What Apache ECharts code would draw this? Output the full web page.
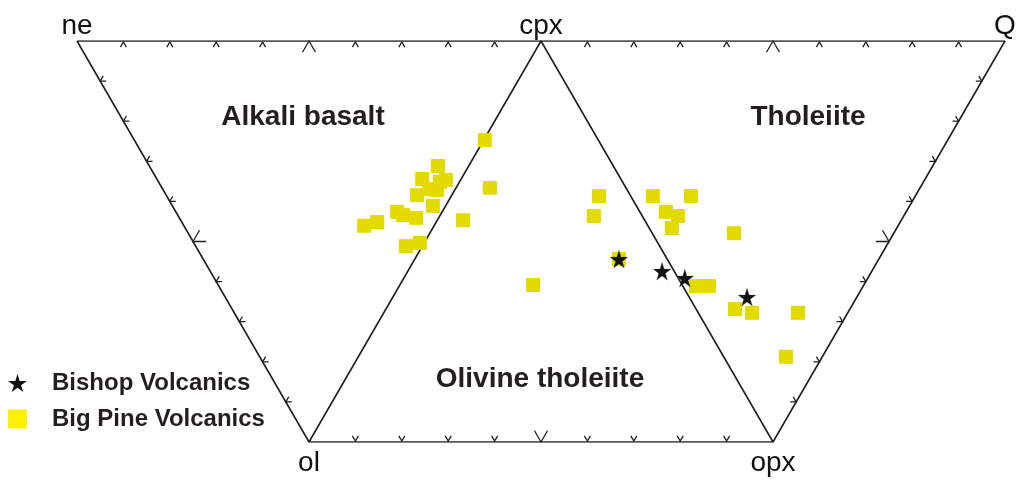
<!DOCTYPE html>
<html><head><meta charset="utf-8">
<script src="https://cdn.jsdelivr.net/npm/echarts@6/dist/echarts.min.js"></script>
<style>html,body{margin:0;padding:0;background:#fff}#c{width:1021px;height:480px}</style>
</head><body><div id="c"></div>
<script>
const H = Math.sqrt(3) / 2;
// projection vertices (x along ne–Q, y up from ol–opx)
const vertexNames = ['ne', 'cpx', 'Q', 'ol', 'opx'];
const vertexX = [0, 1, 2, 0.5, 1.5];
const vertexY = [H, H, H, 0, 0];
const outlineOrder = ['ne', 'Q', 'opx', 'ol', 'ne'];
const innerOrder = ['ol', 'cpx', 'opx'];
const tickFractions = [0.1, 0.2, 0.3, 0.4, 0.5, 0.6, 0.7, 0.8, 0.9];
const fieldNames = ['Alkali basalt', 'Tholeiite', 'Olivine tholeiite'];
const seriesNames = ['Bishop Volcanics', 'Big Pine Volcanics'];

const bigPineX = [0.879, 0.778, 0.744, 0.795, 0.782, 0.759, 0.776, 0.733, 0.890, 0.767, 0.690, 0.703, 0.731, 0.647, 0.619, 0.832, 0.709, 0.739, 0.983,
  1.125, 1.241, 1.323, 1.114, 1.269, 1.295, 1.282, 1.416, 1.168, 1.334, 1.362, 1.418, 1.455, 1.554, 1.528];
const bigPineY = [0.652, 0.596, 0.568, 0.566, 0.562, 0.546, 0.544, 0.533, 0.549, 0.510, 0.497, 0.490, 0.484, 0.475, 0.467, 0.479, 0.423, 0.430, 0.339,
  0.531, 0.531, 0.531, 0.488, 0.497, 0.488, 0.462, 0.451, 0.395, 0.337, 0.337, 0.287, 0.279, 0.279, 0.184];
const bishopX = [1.168, 1.261, 1.310, 1.444];
const bishopY = [0.395, 0.369, 0.354, 0.313];

const V = {};
vertexNames.forEach((n, i) => { V[n] = [vertexX[i], vertexY[i]]; });

// tick edges: [start, end, style]
const tickEdges = [['ne', 'cpx', 'top'], ['cpx', 'Q', 'top'], ['ne', 'ol', 'left'], ['Q', 'opx', 'right'], ['ol', 'opx', 'bottom']];
const tickData = [];
tickEdges.forEach((e, ei) => {
  const a = V[e[0]], b = V[e[1]];
  tickFractions.forEach(f => {
    tickData.push([a[0] + f * (b[0] - a[0]), a[1] + f * (b[1] - a[1]), ei, f === 0.5 ? 1 : 0]);
  });
});

const STAR = 'path://M50,0 L61,35 L98,35 L68,57 L79,91 L50,70 L21,91 L32,57 L2,35 L39,35 Z';
const INK = '#231f20';
const FONT = '"Liberation Sans", Arial, Helvetica, sans-serif';
const c60 = Math.cos(Math.PI / 3), s60 = Math.sin(Math.PI / 3);
const legDirs = {
  top: [[-c60, s60], [c60, s60]],
  bottom: [[-c60, -s60], [c60, -s60]],
  left: [[1, 0], [c60, -s60]],
  right: [[-1, 0], [-c60, -s60]]
};

const chart = echarts.init(document.getElementById('c'), null, { renderer: 'canvas' });
chart.setOption({
  animation: false,
  backgroundColor: '#ffffff',
  grid: { left: 77, right: 16, top: 41, bottom: 38 },
  xAxis: { type: 'value', min: 0, max: 2, show: false },
  yAxis: { type: 'value', min: 0, max: H, show: false },
  legend: {
    orient: 'vertical', left: 3, top: 366, itemWidth: 19, itemHeight: 19, itemGap: 12,
    selectedMode: false,
    textStyle: { fontFamily: FONT, fontWeight: 'bold', fontSize: 24, color: INK, padding: [0, 0, 0, 20] },
    data: [
      { name: seriesNames[0], icon: STAR, itemStyle: { color: '#111111', opacity: 1, borderWidth: 0 } },
      { name: seriesNames[1], icon: 'rect', itemStyle: { color: '#fff200', opacity: 1, borderWidth: 0 } }
    ]
  },
  graphic: [
    { type: 'text', x: 303, y: 117, style: { text: fieldNames[0], fill: INK, font: 'bold 28px ' + FONT, align: 'center', verticalAlign: 'middle' } },
    { type: 'text', x: 808, y: 117, style: { text: fieldNames[1], fill: INK, font: 'bold 28px ' + FONT, align: 'center', verticalAlign: 'middle' } },
    { type: 'text', x: 540, y: 379, style: { text: fieldNames[2], fill: INK, font: 'bold 28px ' + FONT, align: 'center', verticalAlign: 'middle' } }
  ],
  series: [
    {
      type: 'line', silent: true, symbol: 'none', z: 3,
      lineStyle: { color: INK, width: 1.6 },
      data: outlineOrder.map(n => V[n])
    },
    {
      type: 'line', silent: true, symbol: 'none', z: 3,
      lineStyle: { color: INK, width: 1.6 },
      data: innerOrder.map(n => V[n])
    },
    {
      type: 'custom', silent: true, z: 3, clip: false,
      data: tickData,
      renderItem: function (params, api) {
        const p = api.coord([api.value(0), api.value(1)]);
        const edge = tickEdges[api.value(2)][2];
        const big = api.value(3) === 1;
        const L = big ? 13 : 6;
        const off = big ? 0 : 1;
        const d = legDirs[edge];
        let ax = p[0], ay = p[1];
        if (edge === 'top') ay += off;
        if (edge === 'bottom') ay -= off;
        return {
          type: 'polyline',
          shape: { points: [[ax + d[0][0] * L, ay + d[0][1] * L], [ax, ay], [ax + d[1][0] * L, ay + d[1][1] * L]] },
          style: { stroke: INK, lineWidth: 1.3, fill: null }
        };
      }
    },
    {
      type: 'scatter', silent: true, symbolSize: 0, z: 4,
      itemStyle: { opacity: 1 },
      data: vertexNames.map((n, i) => ({
        name: n, value: [vertexX[i], vertexY[i]],
        label: { show: true, formatter: n, position: vertexY[i] > 0 ? 'top' : 'bottom', distance: vertexY[i] > 0 ? 1 : 7 }
      })),
      label: { fontFamily: FONT, fontSize: 28, color: '#111111' }
    },
    {
      name: seriesNames[1], type: 'scatter', symbol: 'rect', symbolSize: 14, z: 5,
      itemStyle: { color: '#e3da00', opacity: 1 },
      data: bigPineX.map((x, i) => [x, bigPineY[i]])
    },
    {
      name: seriesNames[0], type: 'scatter', symbol: STAR, symbolSize: 18, z: 6,
      itemStyle: { color: '#111111', opacity: 1, borderColor: '#777', borderWidth: 0.3 },
      data: bishopX.map((x, i) => [x, bishopY[i]])
    }
  ]
});
</script>
</body></html>
